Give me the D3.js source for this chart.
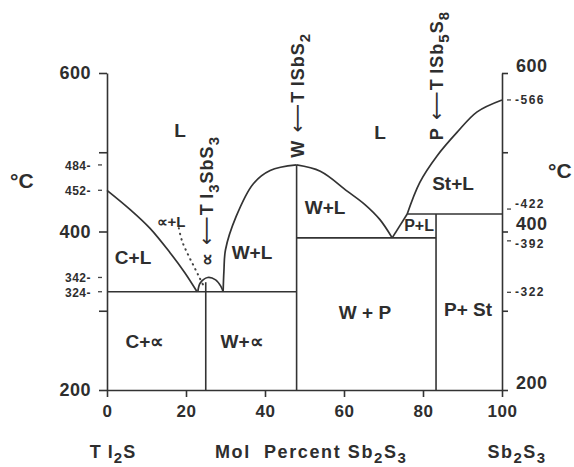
<!DOCTYPE html>
<html>
<head>
<meta charset="utf-8">
<script src="https://cdn.jsdelivr.net/npm/d3@7"></script>
<style>
body { margin: 0; background: #fff; }
svg text { font-family: "Liberation Sans", Arial, Helvetica, sans-serif; font-weight: bold; fill: #2e2e2e; }
</style>
</head>
<body>
<div id="chart"></div>
<script>
// axes: mol % Sb2S3 and temperature in deg C
var xTicks = [0, 20, 40, 60, 80, 100];
var yTicks = [200, 300, 400, 500, 600];
var yLabelled = [200, 400, 600];
var leftMarks = [484, 452, 342, 324];
var rightMarks = [566, 422, 392, 322];

// boundaries, [mol %, deg C]
var liqTl2S = [[0, 452], [5.8, 428], [10.9, 404], [16, 373], [19.7, 348], [22.8, 324]];
var alphaBoundary = [[18.2, 404], [19, 388], [20.5, 371], [22, 356], [23.3, 343], [24.3, 333]];
var alphaDome = [[23, 324], [23.6, 335], [25.5, 342], [27.5, 339], [28.8, 331], [29.4, 324]];
var liqWleft = [[29.4, 324], [29.6, 350], [30, 377], [32.7, 419], [37, 460], [41.3, 477], [48, 484]];
var liqWright = [[48, 484], [54, 476], [60.8, 451], [65.3, 434], [69.1, 415], [72.2, 392]];
var liqP = [[72.2, 392], [76, 422]];
var liqSt = [[76, 422], [79.2, 462], [83.5, 495], [88.6, 525], [93.7, 551], [100, 566]];

// invariant (horizontal) lines and compound (vertical) lines
var tieLines = [
  [[0, 324], [48, 324]],
  [[48, 392], [83.3, 392]],
  [[76, 422], [100, 422]],
  [[25, 200], [25, 336]],
  [[48, 200], [48, 484]],
  [[83.3, 200], [83.3, 422]]
];

var regionText = ["L", "L", "C+L", "\u221D+L", "W+L", "W+L", "St+L", "P+L", "C+\u221D", "W+\u221D", "W + P", "P+ St"];
var regionX = [18.5, 69.1, 6.6, 16.2, 55.2, 36.7, 87.6, 79, 9.6, 34.2, 65.3, 91.4];
var regionT = [528, 525, 368, 412, 431, 374, 461, 408, 261, 261, 298, 302];

var compoundX = [25, 48, 83.3];
var compoundT = [356, 493, 515];
var compoundPhase = ["\u221D", "W", "P"];
var compoundFormula = ["Tl_3SbS_3", "TlSbS_2", "TlSb_5S_8"];

var width = 574, height = 467;

var svg = d3.select("#chart").append("svg")
    .attr("width", width)
    .attr("height", height);

var x = d3.scaleLinear().domain([0, 100]).range([107, 502]);
var y = d3.scaleLinear().domain([200, 600]).range([390, 73]);

// axes
var left = svg.append("g")
    .attr("transform", "translate(" + x(0) + ",0)")
    .call(d3.axisLeft(y).tickValues(yTicks).tickSize(8).tickPadding(8).tickSizeOuter(0)
      .tickFormat(function (d) { return yLabelled.indexOf(d) >= 0 ? d : ""; }));
left.selectAll("text").style("font-size", "18px").style("letter-spacing", "0.5px");

var right = svg.append("g")
    .attr("transform", "translate(" + x(100) + ",0)")
    .call(d3.axisRight(y).tickValues(yTicks).tickSize(6).tickPadding(8).tickSizeOuter(0)
      .tickFormat(function (d) { return yLabelled.indexOf(d) >= 0 ? d : ""; }));
right.selectAll("text").style("font-size", "18px").style("letter-spacing", "0.5px").attr("dy", "-0.1em");

var bottom = svg.append("g")
    .attr("transform", "translate(0," + y(200) + ")")
    .call(d3.axisBottom(x).tickValues(xTicks).tickSize(7).tickPadding(8).tickSizeOuter(0));
bottom.selectAll("text").style("font-size", "17px").style("letter-spacing", "0.5px");

svg.selectAll(".domain, .tick line").attr("stroke", "#333").attr("stroke-width", 1.6);

// small value marks beside the axes
leftMarks.forEach(function (v) {
  svg.append("line").attr("x1", x(0) - 9).attr("x2", x(0) - 5)
    .attr("y1", y(v)).attr("y2", y(v)).attr("stroke", "#444").attr("stroke-width", 1.3);
  svg.append("text").attr("x", x(0) - 16).attr("y", y(v)).attr("dy", "0.4em")
    .attr("text-anchor", "end").style("font-size", "12px").style("letter-spacing", "0.5px")
    .text(v + "-");
});
var rightNudge = { 566: 0, 422: -10, 392: 6, 322: -2 };
rightMarks.forEach(function (v) {
  svg.append("line").attr("x1", x(100) + 5).attr("x2", x(100) + 9)
    .attr("y1", y(v) + rightNudge[v] / 2).attr("y2", y(v) + rightNudge[v] / 2)
    .attr("stroke", "#444").attr("stroke-width", 1.3);
  svg.append("text").attr("x", x(100) + 13).attr("y", y(v) + rightNudge[v]).attr("dy", "0.35em")
    .style("font-size", "12px").style("letter-spacing", "1.5px")
    .text("-" + v);
});

// °C labels
svg.append("text").attr("x", 10).attr("y", 188).style("font-size", "21px").text("\u00B0C");
svg.append("text").attr("x", 548).attr("y", 178).style("font-size", "21px").text("\u00B0C");

// phase boundaries
var line = d3.line()
    .x(function (d) { return x(d[0]); })
    .y(function (d) { return y(d[1]); });
var curve = d3.line()
    .x(function (d) { return x(d[0]); })
    .y(function (d) { return y(d[1]); })
    .curve(d3.curveCatmullRom.alpha(0.5));

[liqTl2S, alphaDome, liqWleft, liqWright, liqSt].forEach(function (pts) {
  svg.append("path").datum(pts).attr("d", curve)
    .attr("fill", "none").attr("stroke", "#333").attr("stroke-width", 1.7);
});
svg.append("path").datum(liqP).attr("d", line)
  .attr("fill", "none").attr("stroke", "#333").attr("stroke-width", 1.7);

svg.append("path").datum(alphaBoundary).attr("d", curve)
  .attr("fill", "none").attr("stroke", "#444").attr("stroke-width", 2)
  .attr("stroke-linecap", "round").attr("stroke-dasharray", "0.5,5");

tieLines.forEach(function (seg) {
  svg.append("path").datum(seg).attr("d", line)
    .attr("fill", "none").attr("stroke", "#333").attr("stroke-width", 1.6);
});

// region labels
regionText.forEach(function (t, i) {
  var small = t === "\u221D+L";
  svg.append("text")
    .attr("x", x(regionX[i])).attr("y", y(regionT[i])).attr("dy", "0.36em")
    .attr("text-anchor", "middle")
    .style("font-size", small ? "15px" : (t === "P+L" ? "16px" : "19px"))
    .text(t);
});

// compounds, written upward with an arrow down to the phase symbol
compoundX.forEach(function (cx, i) {
  var tx = svg.append("text")
    .attr("transform", "translate(" + (x(cx) + 7) + "," + y(compoundT[i]) + ") rotate(-90)")
    .style("font-size", "18px").style("letter-spacing", "1px");
  tx.append("tspan").text(compoundPhase[i]);
  tx.append("tspan").style("font-family", "DejaVu Sans").style("font-weight", "normal")
    .style("font-size", "20px").text(" \u27F5");
  var parts = compoundFormula[i].split("_");
  parts.forEach(function (p, j) {
    if (j === 0) { tx.append("tspan").text(p.replace("Tl", "T\u2009l")); return; }
    tx.append("tspan").attr("dy", 6).style("font-size", "15px").text(p[0]);
    if (p.length > 1) tx.append("tspan").attr("dy", -6).text(p.slice(1));
  });
});

// axis titles
function chem(el, str) {
  str.split("_").forEach(function (p, j) {
    if (j === 0) { el.append("tspan").text(p); return; }
    el.append("tspan").attr("dy", 5).style("font-size", "15px").text(p[0]);
    if (p.length > 1) el.append("tspan").attr("dy", -5).text(p.slice(1));
  });
}
var t1 = svg.append("text").attr("x", x(0) + 6).attr("y", 458).attr("text-anchor", "middle")
  .style("font-size", "18px").style("letter-spacing", "1px");
chem(t1, "T l_2S");
var t2 = svg.append("text").attr("x", 215).attr("y", 458)
  .style("font-size", "18px").style("letter-spacing", "1.6px").attr("xml:space", "preserve");
chem(t2, "Mol  Percent Sb_2S_3");
var t3 = svg.append("text").attr("x", x(100) + 15).attr("y", 458).attr("text-anchor", "middle")
  .style("font-size", "18px").style("letter-spacing", "1.5px");
chem(t3, "Sb_2S_3");
</script>
</body>
</html>
